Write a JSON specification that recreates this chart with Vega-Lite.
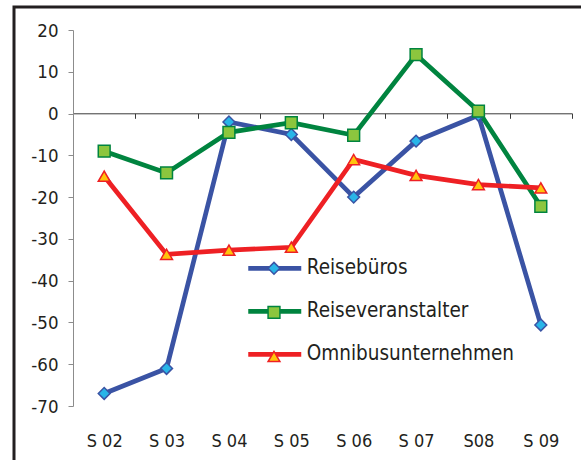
{
  "$schema": "https://vega.github.io/schema/vega-lite/v6.json",
  "width": 567,
  "height": 453,
  "autosize": {"type": "none"},
  "padding": {"left": 14, "top": 7, "right": 0, "bottom": 0},
  "background": "white",
  "config": {
    "view": {"stroke": "#231f20", "strokeWidth": 3, "strokeDash": [567, 1020, 453]},
    "font": "DejaVu Sans Condensed, DejaVu Sans, sans-serif",
    "axis": {"grid": false}
  },
  "data": {
    "values": [
      {"cat": "S 02", "series": "Reisebüros", "value": -67},
      {"cat": "S 03", "series": "Reisebüros", "value": -61},
      {"cat": "S 04", "series": "Reisebüros", "value": -2},
      {"cat": "S 05", "series": "Reisebüros", "value": -5},
      {"cat": "S 06", "series": "Reisebüros", "value": -20},
      {"cat": "S 07", "series": "Reisebüros", "value": -6.6},
      {"cat": "S08", "series": "Reisebüros", "value": -0.4},
      {"cat": "S 09", "series": "Reisebüros", "value": -50.6},
      {"cat": "S 02", "series": "Reiseveranstalter", "value": -9},
      {"cat": "S 03", "series": "Reiseveranstalter", "value": -14.2},
      {"cat": "S 04", "series": "Reiseveranstalter", "value": -4.5},
      {"cat": "S 05", "series": "Reiseveranstalter", "value": -2.2},
      {"cat": "S 06", "series": "Reiseveranstalter", "value": -5.2},
      {"cat": "S 07", "series": "Reiseveranstalter", "value": 14.1},
      {"cat": "S08", "series": "Reiseveranstalter", "value": 0.6},
      {"cat": "S 09", "series": "Reiseveranstalter", "value": -22.2},
      {"cat": "S 02", "series": "Omnibusunternehmen", "value": -15},
      {"cat": "S 03", "series": "Omnibusunternehmen", "value": -33.7},
      {"cat": "S 04", "series": "Omnibusunternehmen", "value": -32.7},
      {"cat": "S 05", "series": "Omnibusunternehmen", "value": -32},
      {"cat": "S 06", "series": "Omnibusunternehmen", "value": -11},
      {"cat": "S 07", "series": "Omnibusunternehmen", "value": -14.8},
      {"cat": "S08", "series": "Omnibusunternehmen", "value": -17},
      {"cat": "S 09", "series": "Omnibusunternehmen", "value": -17.8}
    ]
  },
  "encoding": {
    "x": {
      "field": "cat", "type": "nominal", "sort": null,
      "scale": {"range": [59, 558], "paddingInner": 0, "paddingOuter": 0},
      "axis": {
        "title": null, "orient": "bottom", "offset": -346.7, "tickBand": "extent",
        "tickSize": 5, "tickColor": "#3a3a3a", "domainColor": "#3a3a3a", "domainWidth": 1,
        "labelAngle": 0, "labelPadding": 314, "labelFontSize": 18, "labelColor": "#231f20",
        "labelBaseline": "top"
      }
    },
    "y": {
      "field": "value", "type": "quantitative",
      "scale": {"domain": [-70, 20], "range": [399, 23], "nice": false, "zero": false},
      "axis": {
        "title": null, "offset": -59, "values": [-70, -60, -50, -40, -30, -20, -10, 0, 10, 20],
        "labelExpr": "'' + datum.value",
        "tickSize": 5, "tickColor": "#8c8c8c", "domainColor": "#8c8c8c", "domainWidth": 1,
        "labelPadding": 10, "labelFontSize": 18.5, "labelColor": "#231f20"
      }
    }
  },
  "layer": [
    {
      "mark": {"type": "line", "strokeWidth": 4.7, "strokeJoin": "miter"},
      "encoding": {
        "color": {
          "field": "series", "type": "nominal",
          "scale": {"domain": ["Reisebüros", "Reiseveranstalter", "Omnibusunternehmen"], "range": ["#3a53a4", "#00843f", "#ee2024"]},
          "legend": {
            "orient": "none", "legendX": 231.75, "legendY": 232.3, "title": null,
            "padding": 0, "offset": 0, "labelLimit": 0,
            "symbolType": "stroke", "symbolSize": 2809, "symbolStrokeWidth": 4.7,
            "labelFontSize": 20.5, "labelColor": "#231f20", "labelOffset": 3, "rowPadding": 3
          }
        }
      }
    },
    {
      "mark": {"type": "point", "filled": true, "opacity": 1, "size": 140, "strokeWidth": 1.5},
      "encoding": {
        "stroke": {
          "field": "series", "type": "nominal",
          "scale": {"range": ["#ee2024", "#3a53a4", "#00843f"]},
          "legend": {
            "orient": "none", "legendX": 253, "legendY": 254.3, "title": null,
            "padding": 0, "offset": 0,
            "values": ["Reisebüros", "Reiseveranstalter", "Omnibusunternehmen"],
            "symbolSize": 140, "symbolStrokeWidth": 1.5, "labelFontSize": 1, "labelExpr": "''",
            "rowPadding": 26.1
          }
        },
        "fill": {
          "field": "series", "type": "nominal",
          "scale": {"range": ["#ffc40c", "#29b5e8", "#8cc63e"]},
          "legend": {
            "orient": "none", "legendX": 253, "legendY": 254.3, "title": null,
            "padding": 0, "offset": 0,
            "values": ["Reisebüros", "Reiseveranstalter", "Omnibusunternehmen"],
            "symbolSize": 140, "symbolStrokeWidth": 1.5, "labelFontSize": 1, "labelExpr": "''",
            "rowPadding": 26.1
          }
        },
        "shape": {
          "field": "series", "type": "nominal",
          "scale": {"range": ["triangle-up", "diamond", "square"]},
          "legend": {
            "orient": "none", "legendX": 253, "legendY": 254.3, "title": null,
            "padding": 0, "offset": 0,
            "values": ["Reisebüros", "Reiseveranstalter", "Omnibusunternehmen"],
            "symbolSize": 140, "symbolStrokeWidth": 1.5, "labelFontSize": 1, "labelExpr": "''",
            "rowPadding": 26.1
          }
        }
      }
    }
  ]
}
